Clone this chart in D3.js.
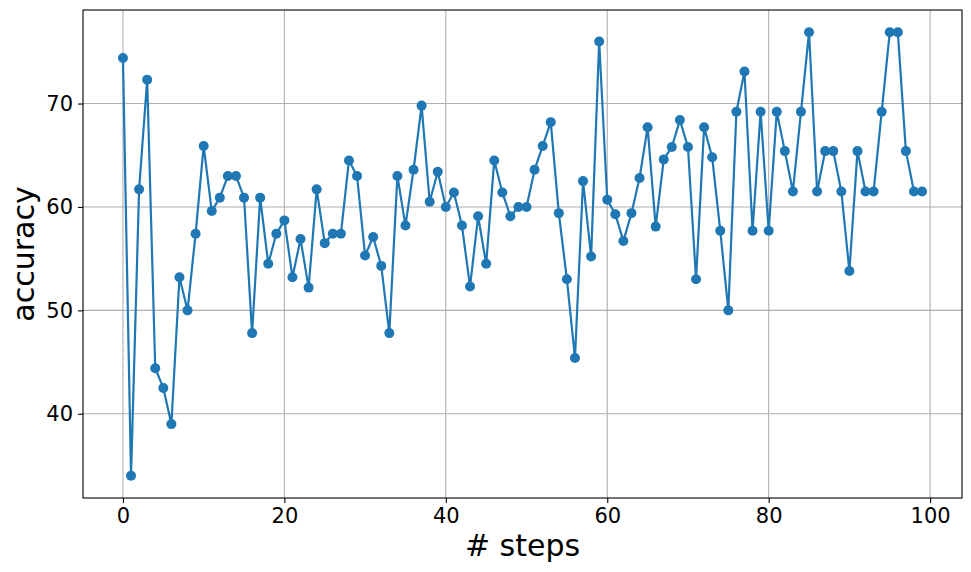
<!DOCTYPE html>
<html>
<head>
<meta charset="utf-8">
<script src="https://cdn.jsdelivr.net/npm/d3@7"></script>
<style>
  body { margin: 0; background: #fff; }
  svg { display: block; }
  text { font-family: "DejaVu Sans", sans-serif; fill: #000; }
</style>
</head>
<body>
<svg id="chart" width="971" height="572"></svg>
<script>
const steps = d3.range(0, 100);
const accuracy = [
  74.4, 34.0, 61.7, 72.3, 44.4, 42.5, 39.0, 53.2, 50.0, 57.4,
  65.9, 59.6, 60.9, 63.0, 63.0, 60.9, 47.8, 60.9, 54.5, 57.4,
  58.7, 53.2, 56.9, 52.2, 61.7, 56.5, 57.4, 57.4, 64.5, 63.0,
  55.3, 57.1, 54.3, 47.8, 63.0, 58.2, 63.6, 69.8, 60.5, 63.4,
  60.0, 61.4, 58.2, 52.3, 59.1, 54.5, 64.5, 61.4, 59.1, 60.0,
  60.0, 63.6, 65.9, 68.2, 59.4, 53.0, 45.4, 62.5, 55.2, 76.0,
  60.7, 59.3, 56.7, 59.4, 62.8, 67.7, 58.1, 64.6, 65.8, 68.4,
  65.8, 53.0, 67.7, 64.8, 57.7, 50.0, 69.2, 73.1, 57.7, 69.2,
  57.7, 69.2, 65.4, 61.5, 69.2, 76.9, 61.5, 65.4, 65.4, 61.5,
  53.8, 65.4, 61.5, 61.5, 69.2, 76.9, 76.9, 65.4, 61.5, 61.5
];
const xTicks = [0, 20, 40, 60, 80, 100];
const yTicks = [40, 50, 60, 70];
const xLabel = "# steps";
const yLabel = "accuracy";

const svg = d3.select("#chart");
const L = 83, T = 10, R = 962, B = 498;

const xMin = d3.min(steps), xMax = d3.max(steps);
const xPad = (xMax - xMin) * 0.05;
const yMin = d3.min(accuracy), yMax = d3.max(accuracy);
const yPad = (yMax - yMin) * 0.05;

const x = d3.scaleLinear().domain([xMin - xPad, xMax + xPad]).range([L, R]);
const y = d3.scaleLinear().domain([yMin - yPad, yMax + yPad]).range([B, T]);

// grid
const grid = svg.append("g");
grid.selectAll(".vx").data(xTicks).enter().append("line")
  .attr("x1", d => x(d)).attr("x2", d => x(d)).attr("y1", T).attr("y2", B)
  .attr("stroke", "#b0b0b0").attr("stroke-width", 1.1);
grid.selectAll(".hy").data(yTicks).enter().append("line")
  .attr("y1", d => y(d)).attr("y2", d => y(d)).attr("x1", L).attr("x2", R)
  .attr("stroke", "#b0b0b0").attr("stroke-width", 1.1);

// axes
const xAxis = d3.axisBottom(x).tickValues(xTicks).tickSize(5).tickPadding(5).tickFormat(d3.format("d"));
const yAxis = d3.axisLeft(y).tickValues(yTicks).tickSize(5).tickPadding(5).tickFormat(d3.format("d"));

const gx = svg.append("g").attr("transform", `translate(0,${B})`).call(xAxis);
const gy = svg.append("g").attr("transform", `translate(${L},0)`).call(yAxis);
[gx, gy].forEach(g => {
  g.select(".domain").remove();
  g.selectAll(".tick line").attr("stroke", "#000").attr("stroke-width", 1.1);
  g.selectAll(".tick text").attr("font-size", 21).attr("font-family", "DejaVu Sans").attr("fill", "#000");
});

// frame
svg.append("rect").attr("x", L).attr("y", T).attr("width", R - L).attr("height", B - T)
  .attr("fill", "none").attr("stroke", "#000").attr("stroke-width", 1.1);

// line
const line = d3.line().x((d, i) => x(steps[i])).y(d => y(d));
svg.append("path").datum(accuracy).attr("d", line)
  .attr("fill", "none").attr("stroke", "#1f77b4").attr("stroke-width", 2.2)
  .attr("stroke-linejoin", "round");

svg.selectAll(".pt").data(accuracy).enter().append("circle")
  .attr("cx", (d, i) => x(steps[i])).attr("cy", d => y(d)).attr("r", 5)
  .attr("fill", "#1f77b4");

// labels
svg.append("text").attr("x", (L + R) / 2).attr("y", 556).attr("text-anchor", "middle")
  .attr("font-size", 30).text(xLabel);
svg.append("text").attr("transform", `translate(34,${(T + B) / 2}) rotate(-90)`)
  .attr("text-anchor", "middle").attr("font-size", 30).text(yLabel);
</script>
</body>
</html>
